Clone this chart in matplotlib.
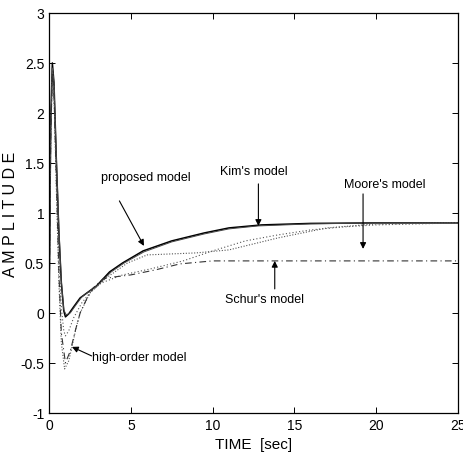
import matplotlib
matplotlib.use('Agg')
import matplotlib.pyplot as plt

# readings taken off the figure (time in sec, amplitude)
t_prop = [0, 0.1, 0.2, 0.3, 0.45, 0.6, 0.75, 0.9, 1.0, 1.2, 1.5, 1.9, 2.4, 2.9, 3.7, 4.5, 5.75, 7.5, 9.5, 11, 13, 16, 20, 25]
y_prop = [0, 1.9, 2.5, 2.3, 1.5, 0.8, 0.3, 0.02, -0.04, -0.01, 0.06, 0.15, 0.21, 0.27, 0.41, 0.5, 0.62, 0.72, 0.8, 0.85, 0.88, 0.895, 0.9, 0.9]

t_kim = [0, 0.1, 0.2, 0.3, 0.45, 0.6, 0.75, 0.9, 1.05, 1.3, 1.6, 2.0, 2.5, 3.0, 3.8, 4.6, 5.8, 7.5, 9.5, 11, 12.8, 16, 20, 25]
y_kim = [0, 1.85, 2.45, 2.3, 1.55, 0.85, 0.32, 0.03, -0.02, 0.0, 0.07, 0.16, 0.22, 0.28, 0.41, 0.5, 0.61, 0.71, 0.79, 0.84, 0.87, 0.89, 0.9, 0.9]

t_moore = [0, 0.1, 0.2, 0.3, 0.45, 0.6, 0.75, 0.9, 1.0, 1.2, 1.5, 2.0, 2.6, 3.2, 4.5, 6.2, 8.2, 10, 12, 14, 16, 18, 20, 25]
y_moore = [0, 1.8, 2.45, 2.25, 1.4, 0.6, 0.05, -0.18, -0.23, -0.18, -0.05, 0.1, 0.22, 0.3, 0.38, 0.44, 0.52, 0.62, 0.72, 0.78, 0.83, 0.86, 0.88, 0.9]

t_high = [0, 0.1, 0.2, 0.3, 0.45, 0.6, 0.75, 0.95, 1.2, 1.4, 1.65, 1.9, 2.5, 3.5, 4.8, 6, 9, 11, 14, 17, 20, 25]
y_high = [0, 1.7, 2.4, 2.2, 1.2, 0.3, -0.3, -0.56, -0.48, -0.34, -0.15, 0.0, 0.2, 0.35, 0.5, 0.58, 0.6, 0.63, 0.75, 0.85, 0.89, 0.9]

t_schur = [0, 0.1, 0.2, 0.3, 0.45, 0.6, 0.75, 1.0, 1.3, 1.6, 1.9, 2.3, 2.7, 3.3, 4.0, 5.0, 6.5, 8, 10, 15, 20, 25]
y_schur = [0, 1.75, 2.4, 2.2, 1.3, 0.4, -0.2, -0.5, -0.38, -0.18, 0.0, 0.14, 0.25, 0.34, 0.36, 0.38, 0.43, 0.49, 0.52, 0.52, 0.52, 0.52]

x_ticks = [0, 5, 10, 15, 20, 25]
y_ticks = [-1, -0.5, 0, 0.5, 1, 1.5, 2, 2.5, 3]
y_tick_labels = ['-1', '-0.5', '0', '0.5', '1', '1.5', '2', '2.5', '3']

plt.rcParams['font.family'] = ['Liberation Sans', 'DejaVu Sans']

fig = plt.figure(figsize=(4.63, 4.64), dpi=100)
ax = fig.add_axes([0.106, 0.108, 0.883, 0.862])

ax.plot(t_prop, y_prop, color='black', lw=1.1, ls='-')
ax.plot(t_kim, y_kim, color='#444444', lw=0.7, ls='-')
ax.plot(t_moore, y_moore, color='#555555', lw=0.8, ls=(0, (1, 2)))
ax.plot(t_high, y_high, color='#555555', lw=0.8, ls=(0, (1, 1.5)))
ax.plot(t_schur, y_schur, color='#333333', lw=0.8, ls=(0, (6, 3, 1, 3)))

ax.set_xlim(0, 25)
ax.set_ylim(-1, 3)
ax.set_xticks(x_ticks)
ax.set_yticks(y_ticks)
ax.set_yticklabels(y_tick_labels)
ax.tick_params(direction='in', top=True, right=True, length=4, width=0.7, labelsize=10)
for sp in ax.spines.values():
    sp.set_linewidth(0.9)

ax.set_xlabel('TIME  [sec]', fontsize=11, labelpad=4)
ax.set_ylabel('A M P L I T U D E', fontsize=11.5)
ax.yaxis.set_label_coords(-0.075, 0.5)

arrow = dict(arrowstyle='-|>', color='black', lw=0.8, mutation_scale=9, shrinkA=0, shrinkB=0)
txt = dict(fontsize=9, color='black')

ax.text(5.9, 1.36, 'proposed model', ha='center', va='center', **txt)
ax.annotate('', xy=(5.8, 0.67), xytext=(4.3, 1.12), arrowprops=arrow)

ax.text(12.5, 1.42, "Kim's model", ha='center', va='center', **txt)
ax.annotate('', xy=(12.8, 0.87), xytext=(12.8, 1.29), arrowprops=arrow)

ax.text(20.5, 1.29, "Moore's model", ha='center', va='center', **txt)
ax.annotate('', xy=(19.2, 0.64), xytext=(19.2, 1.19), arrowprops=arrow)

ax.text(13.2, 0.14, "Schur's model", ha='center', va='center', **txt)
ax.annotate('', xy=(13.8, 0.52), xytext=(13.8, 0.24), arrowprops=arrow)

ax.text(2.65, -0.44, 'high-order model', ha='left', va='center', **txt)
ax.annotate('', xy=(1.4, -0.34), xytext=(2.6, -0.43), arrowprops=arrow)

plt.savefig('out.png', dpi=100)
plt.close()
